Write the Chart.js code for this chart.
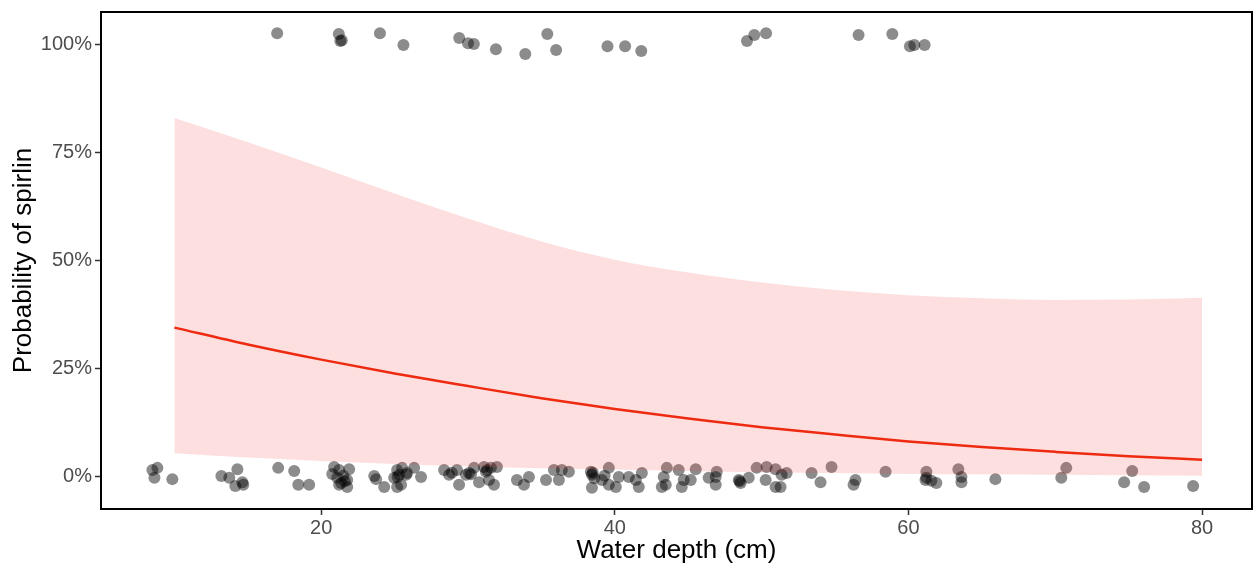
<!DOCTYPE html>
<html lang="en">

<head>
  <meta charset="UTF-8">
  <title>Probability of spirlin</title>
  <style>
    body {
      margin: 0;
      padding: 0;
      background: #fff;
    }

    .chart {
      position: relative;
      width: 1254px;
      height: 567px;
    }
  </style>
</head>

<body>
  <div class="chart">
    <canvas id="probChart"></canvas>
  </div>

  <script src="https://cdn.jsdelivr.net/npm/chart.js@4"></script>
  <script>
    // ==== Data ====
    // observations where spirlin was present (jittered around 100%)
    const presentDepth = [17.0, 21.2, 21.4, 21.3, 24.0, 25.6, 29.4, 30.0, 30.4, 31.9, 33.9, 35.4, 36.0, 39.5, 40.7, 41.8, 49.0, 49.5, 50.3, 56.6, 58.9, 60.1, 60.4, 61.1];
    const presentJitter = [102.5, 102.3, 100.9, 100.7, 102.5, 99.8, 101.4, 100.2, 100.0, 98.8, 97.7, 102.3, 98.6, 99.5, 99.5, 98.4, 100.7, 102.1, 102.5, 102.1, 102.3, 99.5, 99.8, 99.8];

    // observations where spirlin was absent (jittered around 0%)
    const absentDepth = [
      8.50, 8.84, 8.64, 9.86, 13.20, 13.74, 14.29, 14.15, 14.63, 14.69,
      17.07, 18.16, 18.44, 19.18, 20.88, 20.75, 21.22, 21.90, 21.09, 21.36,
      21.77, 21.77, 21.22, 23.61, 23.74, 24.29, 24.97, 25.17, 25.51, 25.78,
      25.17, 25.31, 25.85, 26.33, 26.80, 25.44, 28.37, 28.71, 29.25, 29.86,
      30.07, 29.39, 30.41, 31.09, 31.22, 31.56, 31.97, 30.75, 31.43, 31.77,
      33.33, 33.81, 34.15, 35.31, 35.85, 36.39, 36.87, 36.19, 38.37, 38.44,
      38.44, 39.59, 39.12, 39.59, 40.27, 40.95, 41.43, 41.63, 41.84, 40.07,
      43.47, 43.54, 43.33, 44.35, 44.69, 45.17, 45.51, 44.56, 43.20, 46.39,
      46.87, 46.94, 46.87, 48.44, 48.57, 49.12, 49.66, 50.34, 50.95, 50.27,
      51.36, 51.70, 50.95, 51.29, 53.40, 54.01, 54.76, 56.39, 56.26, 58.44,
      61.16, 61.22, 61.22, 61.56, 61.90, 63.40, 63.61, 63.61, 65.92, 70.41,
      70.75, 74.69, 75.24, 76.05, 79.39,
      21.5, 21.6, 30.2, 31.3, 38.5, 38.6, 39.3, 48.5, 25.2, 28.9
    ];
    const absentJitter = [
      1.6, 2.1, -0.2, -0.5, 0.2, -0.2, 1.8, -2.1, -1.2, -1.8,
      2.1, 1.4, -1.8, -1.8, 2.3, 0.7, 1.6, 1.8, -0.2, -1.4,
      -0.7, -2.3, -1.8, 0.2, -0.5, -2.3, -0.2, 1.6, 2.1, 0.5,
      -2.3, 0.5, 0.9, 2.1, 0.0, -1.8, 1.6, 0.5, 1.6, 0.5,
      0.9, -1.8, 2.1, 2.3, 1.2, 2.1, 2.3, -1.2, -0.7, -1.8,
      -0.7, -1.8, 0.0, -0.7, 1.6, 1.6, 1.2, -0.7, 1.2, 0.5,
      -2.5, 2.1, -0.7, -1.8, 0.0, 0.0, -0.7, -2.3, 0.9, -2.3,
      -1.8, 2.1, 0.0, 1.6, -0.7, -0.7, 1.8, -2.3, -2.3, -0.2,
      0.0, 1.2, -1.8, -0.7, -1.4, -0.2, 2.1, 2.3, 1.8, -0.7,
      0.5, 0.9, -2.3, -2.3, 0.9, -1.2, 2.3, -0.7, -1.8, 1.2,
      -0.7, 1.2, -0.2, -0.9, -1.4, 1.8, 0.0, -1.2, -0.5, -0.2,
      2.1, -1.2, 1.4, -2.3, -2.1,
      0.3, -1.0, 0.6, 1.6, 1.0, -0.3, 0.3, -1.0, 0.0, 1.0
    ];

    // fitted curve and confidence band
    const curveDepth = [10, 15, 20, 25, 30, 35, 40, 45, 50, 55, 60, 65, 70, 75, 80];
    const fitProb = [34.5, 30.6, 27.1, 23.9, 21.0, 18.2, 15.7, 13.5, 11.5, 9.8, 8.2, 6.9, 5.8, 4.8, 4.0];
    const upperProb = [82.9, 77.3, 71.5, 65.5, 59.7, 54.4, 50.2, 47.2, 44.9, 43.2, 42.0, 41.3, 40.9, 41.0, 41.4];
    const lowerProb = [5.5, 4.5, 3.7, 3.0, 2.5, 2.0, 1.7, 1.4, 1.1, 0.9, 0.7, 0.6, 0.5, 0.4, 0.3];

    const xTicks = [20, 40, 60, 80];
    const yTicks = [0, 25, 50, 75, 100];

    // ==== Helpers ====
    const toPoints = (xs, ys) => xs.map((x, i) => ({ x: x, y: ys[i] }));

    const frame = {
      id: 'frame',
      afterDraw(chart) {
        const a = chart.chartArea;
        const ctx = chart.ctx;
        ctx.save();
        ctx.strokeStyle = '#000';
        ctx.lineWidth = 2;
        ctx.strokeRect(a.left, a.top, a.right - a.left, a.bottom - a.top);
        ctx.restore();
      }
    };

    const tickFont = { family: '"Liberation Sans", Arial, sans-serif', size: 20 };
    const titleFont = { family: '"Liberation Sans", Arial, sans-serif', size: 26 };

    // ==== Chart ====
    new Chart(document.getElementById('probChart'), {
      type: 'line',
      data: {
        datasets: [
          {
            label: 'observations',
            data: toPoints(absentDepth, absentJitter).concat(toPoints(presentDepth, presentJitter)),
            showLine: false,
            pointRadius: 6,
            pointBorderWidth: 0,
            pointBackgroundColor: 'rgba(0,0,0,0.45)',
            order: 4
          },
          {
            label: 'lower',
            data: toPoints(curveDepth, lowerProb),
            borderWidth: 0,
            borderColor: 'rgba(0,0,0,0)',
            pointRadius: 0,
            cubicInterpolationMode: 'monotone',
            fill: false,
            order: 3
          },
          {
            label: 'upper',
            data: toPoints(curveDepth, upperProb),
            borderWidth: 0,
            borderColor: 'rgba(0,0,0,0)',
            backgroundColor: 'rgba(240,40,40,0.15)',
            pointRadius: 0,
            cubicInterpolationMode: 'monotone',
            fill: '-1',
            order: 2
          },
          {
            label: 'fit',
            data: toPoints(curveDepth, fitProb),
            borderColor: '#ee2a10',
            borderWidth: 2.5,
            pointRadius: 0,
            cubicInterpolationMode: 'monotone',
            fill: false,
            order: 1
          }
        ]
      },
      options: {
        responsive: true,
        maintainAspectRatio: false,
        animation: false,
        layout: { autoPadding: false, padding: { top: 12, right: 2, left: 0, bottom: 0 } },
        plugins: {
          legend: { display: false },
          tooltip: { enabled: false }
        },
        scales: {
          x: {
            type: 'linear',
            min: 5.0,
            max: 83.4,
            afterFit: s => { s.height = 58; s.paddingLeft = 0; s.paddingRight = 0; },
            afterBuildTicks: s => { s.ticks = xTicks.map(v => ({ value: v })); },
            grid: { drawOnChartArea: false, tickLength: 6, tickWidth: 1.5, tickColor: '#333' },
            border: { display: false },
            ticks: { color: '#4d4d4d', font: tickFont, padding: 1, maxRotation: 0 },
            title: {
              display: true,
              text: 'Water depth (cm)',
              color: '#000',
              font: titleFont,
              padding: { top: 0, bottom: 1 }
            }
          },
          y: {
            min: -7.4,
            max: 107.4,
            afterFit: s => { s.width = 101; s.paddingTop = 0; s.paddingBottom = 0; },
            afterBuildTicks: s => { s.ticks = yTicks.map(v => ({ value: v })); },
            grid: { drawOnChartArea: false, tickLength: 6, tickWidth: 1.5, tickColor: '#333' },
            border: { display: false },
            ticks: { color: '#4d4d4d', font: tickFont, padding: 3, callback: v => v + '%' },
            title: {
              display: true,
              text: 'Probability of spirlin',
              color: '#000',
              font: titleFont,
              padding: { top: 8, bottom: 0 }
            }
          }
        }
      },
      plugins: [frame]
    });
  </script>
</body>

</html>
